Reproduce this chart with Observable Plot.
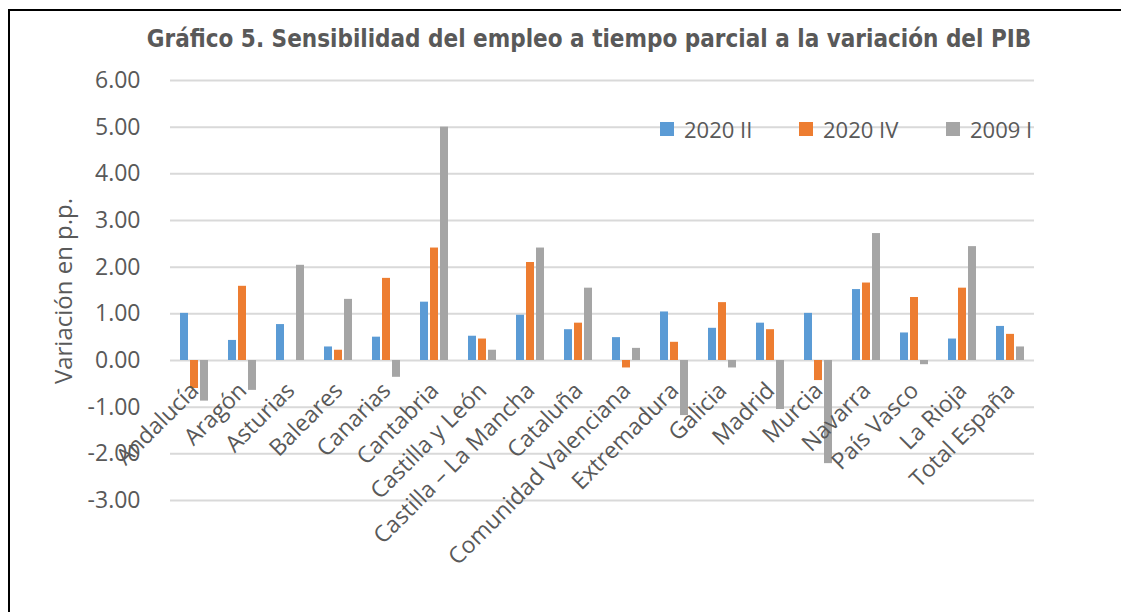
<!DOCTYPE html>
<html><head><meta charset="utf-8">
<script src="https://cdn.jsdelivr.net/npm/d3@7"></script>
<script src="https://cdn.jsdelivr.net/npm/@observablehq/plot@0.6"></script>
<style>
body{margin:0;background:#fff;}
#wrap{position:relative;width:1121px;height:612px;overflow:hidden;font-family:"Open Sans",sans-serif;color:#595959;}
#frame{position:absolute;left:8px;top:9px;width:1200px;height:700px;border-left:2px solid #000;border-top:2px solid #000;}
#title{position:absolute;top:25px;left:0;width:1178px;text-align:center;font-weight:bold;font-size:24px;font-family:"Liberation Sans Narrow","DejaVu Sans Condensed","Open Sans",sans-serif;font-stretch:condensed;color:#595959;white-space:nowrap;}
#ytitle{position:absolute;left:62px;top:291px;transform:translate(-50%,-50%) rotate(-90deg);font-size:24px;white-space:nowrap;}
#chart{position:absolute;left:0;top:0;}
.leg{position:absolute;top:114px;font-size:22px;white-space:nowrap;display:flex;align-items:center;}
.leg span.sw{display:inline-block;width:14px;height:14px;margin-right:10px;}
</style></head>
<body>
<div id="wrap">
  <div id="chart"></div>
  <div id="frame"></div>
  <div id="title">Gráfico 5. Sensibilidad del empleo a tiempo parcial a la variación del PIB</div>
  <div id="ytitle">Variación en p.p.</div>
  <div id="legend"></div>
</div>
<script>
const regions = ["Andalucía","Aragón","Asturias","Baleares","Canarias","Cantabria","Castilla y León","Castilla – La Mancha","Cataluña","Comunidad Valenciana","Extremadura","Galicia","Madrid","Murcia","Navarra","País Vasco","La Rioja","Total España"];
const series = ["2020 II","2020 IV","2009 I"];
const colors = ["#5B9BD5","#ED7D31","#A5A5A5"];
const v2020II = [1.01,0.43,0.77,0.29,0.50,1.25,0.52,0.97,0.66,0.49,1.04,0.69,0.80,1.01,1.52,0.59,0.46,0.73];
const v2020IV = [-0.60,1.59,0.00,0.22,1.76,2.41,0.46,2.10,0.80,-0.16,0.39,1.24,0.66,-0.43,1.66,1.35,1.55,0.56];
const v2009I = [-0.87,-0.64,2.04,1.31,-0.36,5.00,0.22,2.41,1.55,0.26,-1.18,-0.16,-1.05,-2.21,2.72,-0.09,2.44,0.29];
const yTicks = [-3,-2,-1,0,1,2,3,4,5,6];

const valuesBySeries = [v2020II, v2020IV, v2009I];
const rows = [];
regions.forEach((r, i) => series.forEach((s, j) => rows.push({region: r, series: s, value: valuesBySeries[j][i]})));

const chart = Plot.plot({
  width: 1121, height: 612,
  marginTop: 80, marginBottom: 112, marginLeft: 163, marginRight: 80,
  style: {fontFamily: "Open Sans", fontSize: "23px", color: "#595959", background: "transparent", overflow: "visible"},
  fx: {domain: regions, padding: 0, axis: null, label: null},
  x: {domain: series, paddingInner: 0.18, paddingOuter: 0.81, axis: null},
  y: {domain: [-3, 6], ticks: yTicks, tickFormat: d => d.toFixed(2), tickSize: 0, tickPadding: 30, label: null},
  color: {domain: series, range: colors},
  marks: [
    Plot.ruleY(yTicks, {stroke: "#d9d9d9", strokeWidth: 2}),
    Plot.barY(rows, {fx: "region", x: "series", y: "value", fill: "series"}),
    Plot.text(regions, {fx: d => d, y: d => 0, text: d => d, rotate: -45, textAnchor: "end", lineAnchor: "top", dx: -6, dy: 20, fill: "#595959", fontSize: 23})
  ]
});
document.getElementById("chart").appendChild(chart);

const legLeft = [660, 799, 946];
const legend = document.getElementById("legend");
series.forEach((s, i) => {
  const d = document.createElement("div");
  d.className = "leg";
  d.style.left = legLeft[i] + "px";
  d.innerHTML = `<span class="sw" style="background:${colors[i]}"></span>${s}`;
  legend.appendChild(d);
});
</script>
</body></html>
